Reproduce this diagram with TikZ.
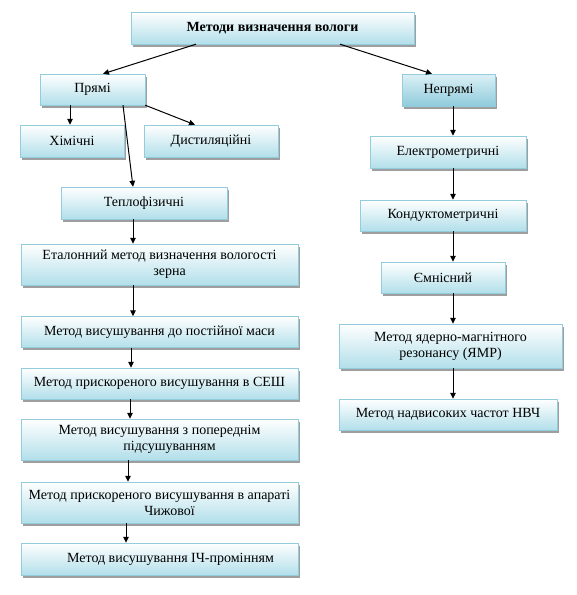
\documentclass[tikz,border=0pt]{standalone}
\usepackage{fontspec}
\setmainfont{Liberation Serif}
\usetikzlibrary{arrows.meta,shadows}
\definecolor{boxline}{HTML}{93CDDD}
\definecolor{boxfill}{HTML}{B2DFEA}
\definecolor{boxdeep}{HTML}{8FCBDB}
\tikzset{
  method/.style={draw=boxline,top color=white,bottom color=boxfill,
                 drop shadow={shadow xshift=2pt,shadow yshift=-2.5pt,fill=black!38,opacity=1},
                 align=center,inner sep=2pt,font=\fontsize{14}{16}\selectfont},
  group/.style={method,top color=boxfill!45,bottom color=boxdeep},
  arrow/.style={-{Triangle[length=6pt,width=5.5pt]},line width=1pt,draw=black}
}
\begin{document}
\begin{tikzpicture}[x=1pt,y=-1pt]
\useasboundingbox (0,0) rectangle (577,595);
\node[method,minimum width=283pt,minimum height=32pt,font=\fontsize{14}{16}\selectfont\bfseries] (root) at (272.5,28) {Методи визначення вологи};
% direct methods
\node[method,minimum width=105pt,minimum height=31pt] (pryami) at (92.5,89.5) {Прямі};
\node[method,minimum width=104pt,minimum height=32pt] (khim) at (72,141) {Хімічні};
\node[method,minimum width=134pt,minimum height=32pt] (dist) at (211,141) {Дистиляційні};
\node[method,minimum width=166pt,minimum height=32pt] (teplo) at (144,203) {Теплофізичні};
\node[method,minimum width=277pt,minimum height=41pt] (etal) at (159.5,264.5) {Еталонний метод визначення вологості\\\hspace*{20pt}зерна};
\node[method,minimum width=277pt,minimum height=31pt] (sush) at (159.5,332) {Метод висушування до постійної маси};
\node[method,minimum width=277pt,minimum height=31pt] (sesh) at (159.5,383.5) {Метод прискореного висушування в СЕШ};
\node[method,minimum width=277pt,minimum height=41pt] (poper) at (159.5,439.5) {Метод висушування з попереднім\\\hspace*{20pt}підсушуванням};
\node[method,minimum width=277pt,minimum height=41pt] (chyzh) at (159.5,502.5) {Метод прискореного висушування в апараті\\\hspace*{20pt}Чижової};
\node[method,minimum width=277pt,minimum height=32pt] (ich) at (159.5,559) {\hspace*{22pt}Метод висушування ІЧ-промінням};
% indirect methods
\node[group,minimum width=93pt,minimum height=32pt] (nepryami) at (448.5,90) {Непрямі};
\node[method,minimum width=156pt,minimum height=32pt] (elektro) at (448,152) {Електрометричні};
\node[method,minimum width=166pt,minimum height=31pt] (kond) at (443,215.5) {Кондуктометричні};
\node[method,minimum width=124pt,minimum height=31pt] (emn) at (443,277.5) {Ємнісний};
\node[method,minimum width=223pt,minimum height=44pt] (yamr) at (450.5,346) {Метод ядерно-магнітного\\резонансу (ЯМР)};
\node[method,minimum width=218pt,minimum height=31pt] (nvch) at (448,414.5) {Метод надвисоких частот НВЧ};
\coordinate (rx) at (453,0);
\draw[arrow] ([xshift=-76.5pt]root.south) -- ([xshift=10.5pt]pryami.north);
\draw[arrow] ([xshift=67.5pt]root.south) -- ([xshift=-16.5pt]nepryami.north);
\draw[arrow] ([xshift=-22.5pt]pryami.south) -- ([xshift=-2pt]khim.north);
\draw[arrow] (pryami.south east) -- ([xshift=-16pt]dist.north);
\draw[arrow] ([xshift=30.5pt]pryami.south) -- ([xshift=-11pt]teplo.north);
\draw[arrow] ([xshift=-11pt]teplo.south) -- ([xshift=-26.5pt]etal.north);
\draw[arrow] ([xshift=-26.5pt]etal.south) -- ([xshift=-26.5pt]sush.north);
\draw[arrow] ([xshift=-28.5pt]sush.south) -- ([xshift=-28.5pt]sesh.north);
\draw[arrow] ([xshift=-29.5pt]sesh.south) -- ([xshift=-29.5pt]poper.north);
\draw[arrow] ([xshift=-31.5pt]poper.south) -- ([xshift=-31.5pt]chyzh.north);
\draw[arrow] ([xshift=-33.5pt]chyzh.south) -- ([xshift=-33.5pt]ich.north);
\draw[arrow] (nepryami.south -| rx) -- (elektro.north -| rx);
\draw[arrow] (elektro.south -| rx) -- (kond.north -| rx);
\draw[arrow] (kond.south -| rx) -- (emn.north -| rx);
\draw[arrow] (emn.south -| rx) -- (yamr.north -| rx);
\draw[arrow] (yamr.south -| rx) -- (nvch.north -| rx);
\end{tikzpicture}
\end{document}
